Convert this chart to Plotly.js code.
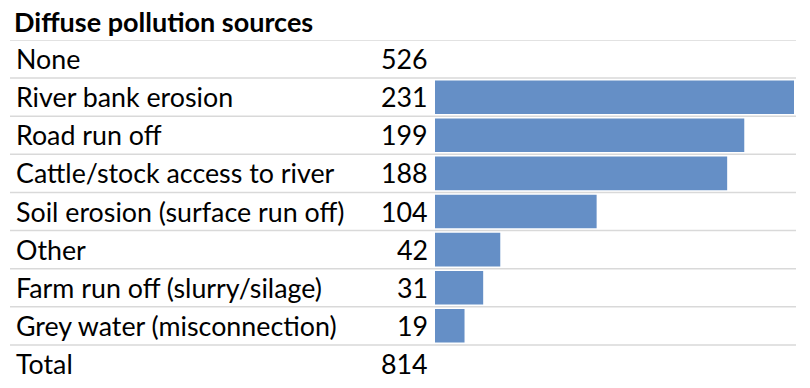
<!DOCTYPE html>
<html><head><meta charset="utf-8">
<script src="https://cdn.plot.ly/plotly-3.0.1.min.js"></script>
<style>html,body{margin:0;padding:0;background:#fff}#chart{width:810px;height:388px}</style>
</head><body><div id="chart"></div>
<script>
const chartTitle = "Diffuse pollution sources";
const rowLabels = ["None","River bank erosion","Road run off","Cattle/stock access to river","Soil erosion (surface run off)","Other","Farm run off (slurry/silage)","Grey water (misconnection)","Total"];
const rowCounts = [526,231,199,188,104,42,31,19,814];
const showBar = [false,true,true,true,true,true,true,true,false];
const barValues = rowCounts.map((v,i)=> showBar[i] ? v : null);

const W=810,H=388,ml=10,mr=14,mt=40,mb=5;
const plotW=W-ml-mr;
const barStartPx=435, barEndPx=794;
const maxV=Math.max(...barValues.filter(v=>v!==null));
const ppu=(barEndPx-barStartPx)/maxV;
const xmin=-(barStartPx-ml)/ppu, xmax=(W-mr-barStartPx)/ppu;
const font="Lato, 'Open Sans', sans-serif";
const fs=26.8;

const annotations=[];
rowLabels.forEach((lab,i)=>{
  annotations.push({xref:'paper',yref:'y',x:(14-ml)/plotW,y:i,text:lab,showarrow:false,xanchor:'left',yanchor:'middle',font:{family:font,size:fs,color:'#000'}});
  annotations.push({xref:'paper',yref:'y',x:(430-ml)/plotW,y:i,text:String(rowCounts[i]),showarrow:false,xanchor:'right',yanchor:'middle',font:{family:font,size:fs,color:'#000'}});
});
const shapes=[];
for(let k=0;k<rowLabels.length;k++){
  shapes.push({type:'line',xref:'paper',yref:'y',x0:0,x1:1,y0:k-0.5,y1:k-0.5,line:{color:'#D9D9D9',width:1.5},layer:'below'});
}
Plotly.newPlot('chart',[{
  type:'bar',orientation:'h',x:barValues,y:rowLabels.map((_,i)=>i),
  marker:{color:'#658FC6'},hoverinfo:'skip',width:0.88
}],{
  width:W,height:H,margin:{l:ml,r:mr,t:mt,b:mb},
  paper_bgcolor:'#fff',plot_bgcolor:'#fff',
  title:{text:'<b>'+chartTitle+'</b>',xref:'paper',x:(14-ml)/plotW,xanchor:'left',yref:'container',y:1-23/H,yanchor:'middle',font:{family:font,size:27,color:'#000'}},
  xaxis:{range:[xmin,xmax],visible:false,fixedrange:true},
  yaxis:{range:[rowLabels.length-0.5,-0.5],visible:false,fixedrange:true},
  annotations:annotations,shapes:shapes,showlegend:false
},{staticPlot:true});
</script></body></html>
